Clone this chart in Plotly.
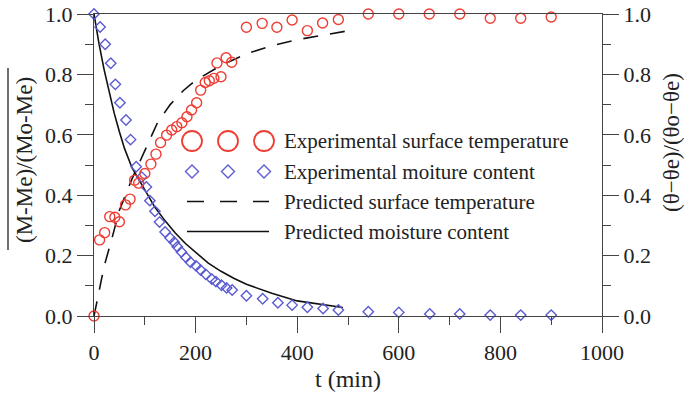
import plotly.graph_objects as go

# ---- data ----
t_temp = [0, 11, 21, 31, 41, 50, 62, 71, 80, 88, 100, 112, 122, 131, 143, 153, 163, 173, 183, 192,
          202, 210, 219, 227, 236, 242, 250, 260, 271, 300, 331, 360, 390, 420, 450, 481,
          540, 600, 660, 720, 780, 840, 900]
temp_exp = [0, 0.252, 0.276, 0.329, 0.327, 0.312, 0.368, 0.387, 0.450, 0.440, 0.472, 0.503, 0.536,
            0.574, 0.599, 0.616, 0.627, 0.640, 0.660, 0.682, 0.706, 0.748, 0.773, 0.779, 0.787,
            0.838, 0.792, 0.855, 0.840, 0.956, 0.969, 0.956, 0.980, 0.945, 0.970, 0.982,
            1.0, 1.0, 1.0, 1.0, 0.986, 0.986, 0.990]

t_moist = [0, 12, 22, 33, 42, 51, 63, 72, 83, 94, 103, 110, 120, 129, 140, 150, 158, 164, 172, 181,
           190, 201, 210, 220, 232, 240, 251, 261, 272, 300, 332, 362, 390, 420, 451, 481,
           540, 600, 661, 720, 780, 840, 900]
moist_exp = [1.0, 0.957, 0.900, 0.837, 0.767, 0.706, 0.649, 0.584, 0.494, 0.460, 0.427, 0.382, 0.347,
             0.311, 0.278, 0.258, 0.244, 0.229, 0.212, 0.194, 0.178, 0.166, 0.152, 0.138, 0.122,
             0.114, 0.102, 0.093, 0.086, 0.067, 0.057, 0.044, 0.036, 0.029, 0.025, 0.020,
             0.014, 0.012, 0.007, 0.007, 0.003, 0.003, 0.003]

t_pred_m = [0, 10, 20, 30, 40, 50, 60, 75, 90, 100, 120, 140, 160, 180, 200, 225, 250, 275, 300,
            350, 400, 450, 490]
moist_pred = [1.0, 0.90, 0.815, 0.74, 0.67, 0.61, 0.555, 0.49, 0.445, 0.415, 0.36, 0.315, 0.275,
              0.24, 0.21, 0.175, 0.148, 0.125, 0.105, 0.075, 0.05, 0.037, 0.028]

t_pred_t = [0, 10, 20, 35, 50, 75, 100, 125, 150, 175, 200, 225, 250, 300, 350, 400, 450, 495]
temp_pred = [0, 0.085, 0.165, 0.255, 0.35, 0.455, 0.55, 0.64, 0.70, 0.745, 0.78, 0.805, 0.83,
             0.868, 0.895, 0.915, 0.93, 0.943]

x_ticks = [0, 200, 400, 600, 800, 1000]
y_ticks = [0.0, 0.2, 0.4, 0.6, 0.8, 1.0]

legend_labels = ["Experimental surface temperature", "Experimental moiture content",
                 "Predicted surface temperature", "Predicted moisture content"]

RED = "#ee3d33"
BLUE = "#5b5bd2"
AX = "#444444"
FONT = "Liberation Serif"
TXT = "#222222"

# plot area in pixels
L, R, T, B = 94, 602, 14, 316
W, H = 686, 393


def px(x):
    return (x - L) / (R - L)


def py(y):
    return (B - y) / (B - T)


fig = go.Figure()
fig.add_trace(go.Scatter(x=t_pred_t, y=temp_pred, mode="lines", yaxis="y2",
                         line=dict(color="#111111", width=1.6, dash="15px,12px"),
                         showlegend=False, cliponaxis=False))
fig.add_trace(go.Scatter(x=t_pred_m, y=moist_pred, mode="lines",
                         line=dict(color="#111111", width=1.6),
                         showlegend=False, cliponaxis=False))
fig.add_trace(go.Scatter(x=t_moist, y=moist_exp, mode="markers",
                         marker=dict(symbol="diamond-open", size=8, color=BLUE, line=dict(width=1.4, color=BLUE)),
                         showlegend=False, cliponaxis=False))
fig.add_trace(go.Scatter(x=t_temp, y=temp_exp, mode="markers", yaxis="y2",
                         marker=dict(symbol="circle-open", size=10, color=RED, line=dict(width=1.4, color=RED)),
                         showlegend=False, cliponaxis=False))

tickfont = dict(family=FONT, size=22, color=TXT)
common_y = dict(range=[0, 1], tickvals=y_ticks, tickformat=".1f", showgrid=False, zeroline=False,
                showline=True, linecolor=AX, linewidth=1.3, ticks="outside", ticklen=16,
                tickwidth=1.3, tickcolor=AX, tickfont=tickfont, automargin=False,
                minor=dict(dtick=0.1, ticks="outside", ticklen=8, tickwidth=1.3, tickcolor=AX))

fig.update_layout(
    width=W, height=H, margin=dict(l=L, r=W - R, t=T, b=H - B, autoexpand=False),
    paper_bgcolor="white", plot_bgcolor="white", showlegend=False,
    xaxis=dict(range=[0, 1000], tickvals=x_ticks, showgrid=False, zeroline=False,
               showline=True, mirror=True, linecolor=AX, linewidth=1.3, ticks="outside",
               ticklen=16, tickwidth=1.3, tickcolor=AX, tickfont=tickfont, automargin=False,
               minor=dict(dtick=100, ticks="outside", ticklen=8, tickwidth=1.3, tickcolor=AX),
               title=dict(text="t (min)", font=dict(family=FONT, size=24, color=TXT), standoff=6)),
    yaxis=common_y,
    yaxis2=dict(overlaying="y", side="right", **common_y),
)

annotations = [
    dict(text="(M-Me)/(Mo-Me)", x=px(33), y=py(160), xref="paper", yref="paper", textangle=-90,
         xanchor="center", yanchor="middle", xshift=-9,
         showarrow=False, font=dict(family=FONT, size=23, color=TXT)),
    dict(text="(θ−θe)/(θo−θe)", x=px(671), y=py(143), xref="paper", yref="paper", textangle=-90,
         xanchor="center", yanchor="middle",
         showarrow=False, font=dict(family=FONT, size=23, color=TXT)),
]
rows = [141, 171.5, 201.5, 231.5]
for lab, ry in zip(legend_labels, rows):
    annotations.append(dict(text=lab, x=px(282), y=py(ry), xref="paper", yref="paper",
                            xanchor="left", yanchor="middle", showarrow=False,
                            font=dict(family=FONT, size=21, color=TXT)))
fig.update_layout(annotations=annotations)

shapes = [
    # overline on the left title
    dict(type="line", xref="paper", yref="paper", x0=px(8), x1=px(8), y0=py(68), y1=py(250),
         line=dict(color=TXT, width=1.3)),
    # legend lines
    dict(type="line", xref="paper", yref="paper", x0=px(187), x1=px(269), y0=py(rows[2]), y1=py(rows[2]),
         line=dict(color="#111111", width=1.6, dash="17px,16px")),
    dict(type="line", xref="paper", yref="paper", x0=px(187), x1=px(269), y0=py(rows[3]), y1=py(rows[3]),
         line=dict(color="#111111", width=1.6)),
]
for cx in [192, 228, 264]:
    r = 10
    shapes.append(dict(type="circle", xref="paper", yref="paper",
                       x0=px(cx - r), x1=px(cx + r), y0=py(rows[0] + r), y1=py(rows[0] - r),
                       line=dict(color=RED, width=1.8)))
    d = 6.5
    cy = rows[1]
    path = "M {} {} L {} {} L {} {} L {} {} Z".format(px(cx - d), py(cy), px(cx), py(cy - d),
                                                       px(cx + d), py(cy), px(cx), py(cy + d))
    shapes.append(dict(type="path", xref="paper", yref="paper", path=path,
                       line=dict(color=BLUE, width=1.4)))
fig.update_layout(shapes=shapes)

fig.write_html("out.html")
